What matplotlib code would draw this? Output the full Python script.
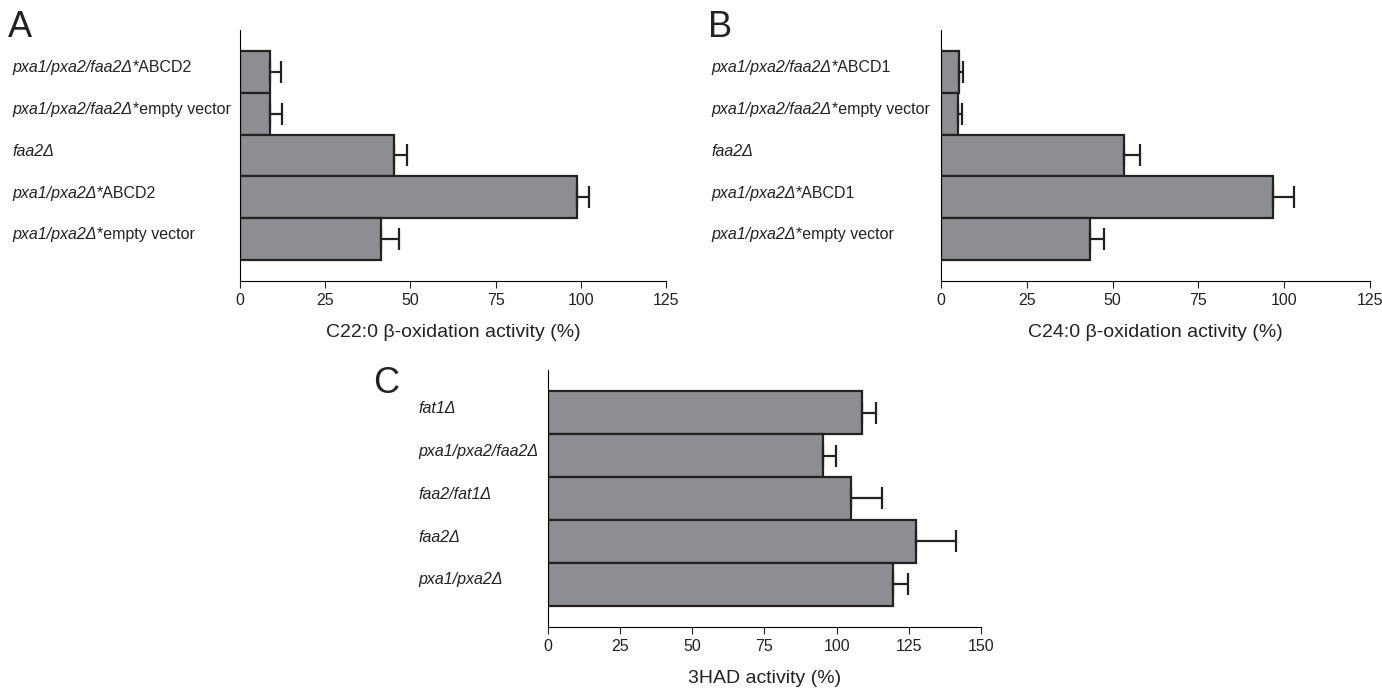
import matplotlib
matplotlib.use("Agg")
import matplotlib.pyplot as plt
import matplotlib.transforms as mtransforms

plt.rcParams['font.family'] = ['Liberation Sans', 'DejaVu Sans']

# panel A: C22:0 beta-oxidation (italic part, upright part of each label)
genes_a = ['pxa1/pxa2/faa2Δ', 'pxa1/pxa2/faa2Δ', 'faa2Δ', 'pxa1/pxa2Δ', 'pxa1/pxa2Δ']
suffix_a = ['*ABCD2', '*empty vector', '', '*ABCD2', '*empty vector']
values_a = [8.8, 8.8, 45.1, 98.8, 41.5]
errors_a = [3.1, 3.6, 4.0, 3.5, 5.0]

# panel B: C24:0 beta-oxidation
genes_b = ['pxa1/pxa2/faa2Δ', 'pxa1/pxa2/faa2Δ', 'faa2Δ', 'pxa1/pxa2Δ', 'pxa1/pxa2Δ']
suffix_b = ['*ABCD1', '*empty vector', '', '*ABCD1', '*empty vector']
values_b = [5.3, 4.9, 53.2, 96.7, 43.3]
errors_b = [1.2, 1.2, 4.8, 6.3, 4.3]

# panel C: 3HAD
genes_c = ['fat1Δ', 'pxa1/pxa2/faa2Δ', 'faa2/fat1Δ', 'faa2Δ', 'pxa1/pxa2Δ']
suffix_c = ['', '', '', '', '']
values_c = [108.7, 95.4, 104.9, 127.5, 119.7]
errors_c = [5.0, 4.5, 10.7, 13.8, 5.0]

fig = plt.figure(figsize=(13.82, 6.88), dpi=100)
renderer = fig.canvas.get_renderer()
txt_col = '#222222'


def panel(rect, genes, suffix, values, errors, xmax, xticks, xlabel, letter, label_x, letter_pos):
    ax = fig.add_axes(rect)
    n = len(values)
    ypos = list(range(n - 1, -1, -1))
    ax.barh(ypos, values, height=1.0, color='#8d8e92', edgecolor=txt_col, linewidth=1.6)
    ax.errorbar(values, ypos, xerr=[[0] * n, errors], fmt='none', ecolor=txt_col,
                elinewidth=1.6, capsize=8, capthick=1.6)
    ax.set_xlim(0, xmax)
    ax.set_ylim(-1, n)
    ax.set_xticks(xticks)
    ax.set_yticks([])
    ax.spines['top'].set_visible(False)
    ax.spines['right'].set_visible(False)
    ax.tick_params(axis='x', direction='out', length=5, labelsize=11.5, colors=txt_col)
    ax.set_xlabel(xlabel, fontsize=14, labelpad=11.5, color=txt_col)
    trans = mtransforms.blended_transform_factory(fig.transFigure, ax.transData)
    for g, s, y in zip(genes, suffix, ypos):
        t = ax.text(label_x, y + 0.1, g, transform=trans, ha='left', va='center',
                    fontsize=11.5, style='italic', color=txt_col)
        if s:
            bb = t.get_window_extent(renderer)
            x2 = bb.x1 / fig.bbox.width
            ax.text(x2, y + 0.1, s, transform=trans, ha='left', va='center',
                    fontsize=11.5, color=txt_col)
    fig.text(letter_pos[0], letter_pos[1], letter, fontsize=26, color=txt_col,
             ha='left', va='top')
    return ax


panel([0.1737, 0.5916, 0.3082, 0.3648], genes_a, suffix_a, values_a, errors_a, 125,
      [0, 25, 50, 75, 100, 125], 'C22:0 β-oxidation activity (%)', 'A', 0.009, (0.006, 0.985))
panel([0.6809, 0.5916, 0.3104, 0.3648], genes_b, suffix_b, values_b, errors_b, 125,
      [0, 25, 50, 75, 100, 125], 'C24:0 β-oxidation activity (%)', 'B', 0.515, (0.512, 0.985))
panel([0.3965, 0.0887, 0.3133, 0.3735], genes_c, suffix_c, values_c, errors_c, 150,
      [0, 25, 50, 75, 100, 125, 150], '3HAD activity (%)', 'C', 0.303, (0.270, 0.468))

fig.savefig('out.png', dpi=100)
